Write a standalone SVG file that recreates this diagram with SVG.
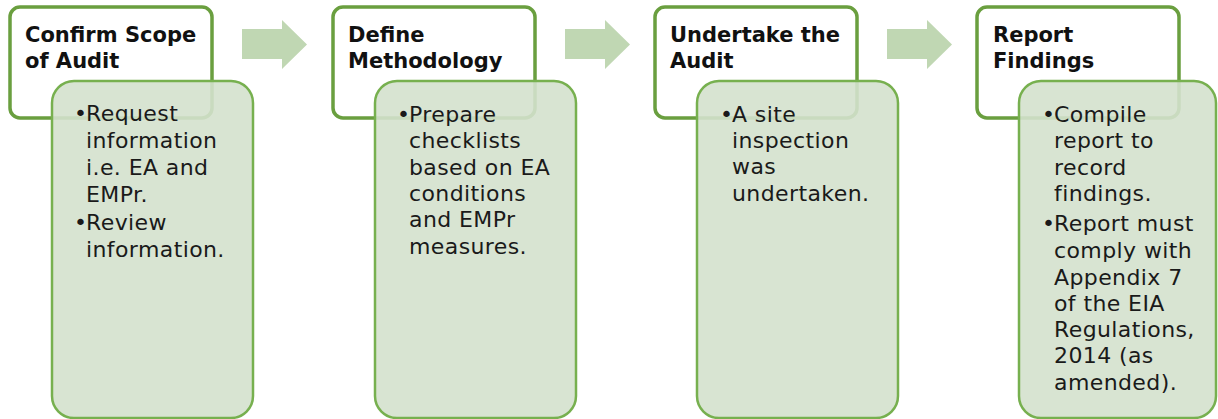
<svg xmlns="http://www.w3.org/2000/svg" width="1218" height="419" viewBox="0 0 1218 419">
<style>
.top{fill:#ffffff;stroke:#6a9f3f;stroke-width:3.5}
.sub{fill:#d4e1cd;fill-opacity:0.9;stroke:#77b04f;stroke-width:2.5}
.arrow{fill:#c0d7b3}
.title{font-family:"DejaVu Sans",sans-serif;font-weight:bold;font-size:21px;letter-spacing:0px;fill:#111111}
.body{font-family:"DejaVu Sans",sans-serif;font-size:22px;letter-spacing:0.4px;fill:#1a1a1a}
</style>
<defs>
<path id="arr" d="M0,9 H40 V0 L65,24.5 L40,49 V39 H0 Z"/>
</defs>
<g id="connectors">
<use href="#arr" class="arrow" x="242" y="20"/>
<use href="#arr" class="arrow" x="565" y="20"/>
<use href="#arr" class="arrow" x="887" y="20"/>
</g>
<g id="node1">
<rect class="top" x="10" y="7" width="202" height="111" rx="10"/>
<text class="title" x="25" y="42">Confirm Scope</text>
<text class="title" x="25" y="68">of Audit</text>
<rect class="sub" x="52" y="81" width="201" height="337" rx="22"/>
<text class="body" x="74" y="121">•</text>
<text class="body" x="86" y="121">Request</text>
<text class="body" x="86" y="148">information</text>
<text class="body" x="86" y="175">i.e. EA and</text>
<text class="body" x="86" y="202">EMPr.</text>
<text class="body" x="74" y="230">•</text>
<text class="body" x="86" y="230">Review</text>
<text class="body" x="86" y="257">information.</text>
</g>
<g id="node2">
<rect class="top" x="333" y="7" width="202" height="111" rx="10"/>
<text class="title" x="348" y="42">Define</text>
<text class="title" x="348" y="68">Methodology</text>
<rect class="sub" x="375" y="81" width="201" height="337" rx="22"/>
<text class="body" x="397" y="122">•</text>
<text class="body" x="409" y="122">Prepare</text>
<text class="body" x="409" y="148">checklists</text>
<text class="body" x="409" y="175">based on EA</text>
<text class="body" x="409" y="201">conditions</text>
<text class="body" x="409" y="227">and EMPr</text>
<text class="body" x="409" y="254">measures.</text>
</g>
<g id="node3">
<rect class="top" x="655" y="7" width="202" height="111" rx="10"/>
<text class="title" x="670" y="42">Undertake the</text>
<text class="title" x="670" y="68">Audit</text>
<rect class="sub" x="697" y="81" width="201" height="337" rx="22"/>
<text class="body" x="720" y="122">•</text>
<text class="body" x="732" y="122">A site</text>
<text class="body" x="732" y="148">inspection</text>
<text class="body" x="732" y="174">was</text>
<text class="body" x="732" y="201">undertaken.</text>
</g>
<g id="node4">
<rect class="top" x="977" y="7" width="202" height="111" rx="10"/>
<text class="title" x="993" y="42">Report</text>
<text class="title" x="993" y="68">Findings</text>
<rect class="sub" x="1019" y="81" width="197" height="337" rx="22"/>
<text class="body" x="1042" y="122">•</text>
<text class="body" x="1054" y="122">Compile</text>
<text class="body" x="1054" y="148">report to</text>
<text class="body" x="1054" y="175">record</text>
<text class="body" x="1054" y="201">findings.</text>
<text class="body" x="1042" y="231">•</text>
<text class="body" x="1054" y="231">Report must</text>
<text class="body" x="1054" y="258">comply with</text>
<text class="body" x="1054" y="285">Appendix 7</text>
<text class="body" x="1054" y="311">of the EIA</text>
<text class="body" x="1054" y="337">Regulations,</text>
<text class="body" x="1054" y="363">2014 (as</text>
<text class="body" x="1054" y="390">amended).</text>
</g>
</svg>
